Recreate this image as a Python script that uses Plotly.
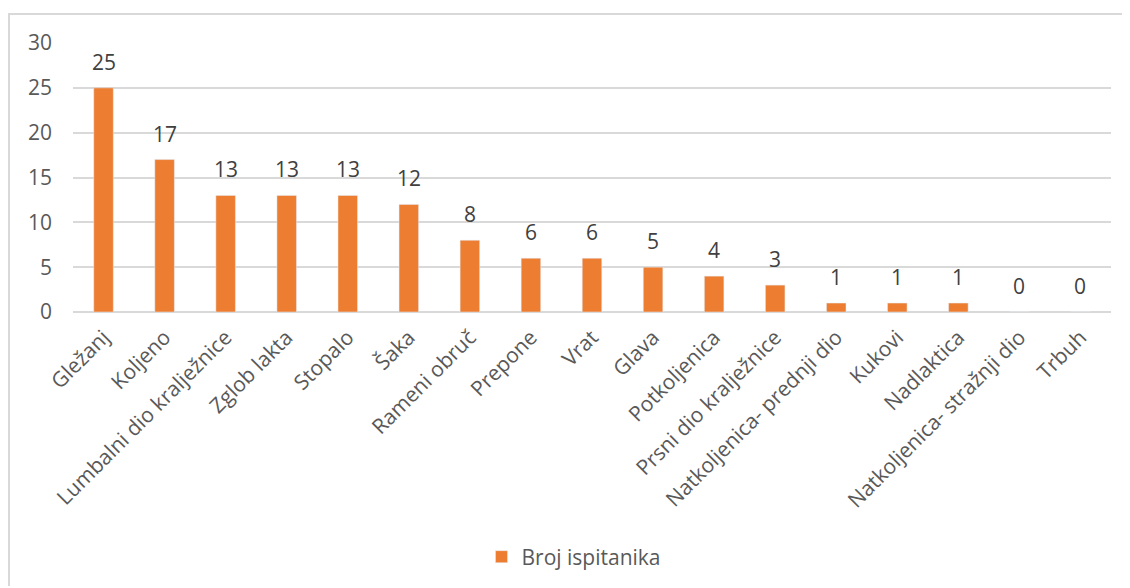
import plotly.graph_objects as go

categories = ["Gležanj", "Koljeno", "Lumbalni dio kralježnice", "Zglob lakta", "Stopalo", "Šaka",
              "Rameni obruč", "Prepone", "Vrat", "Glava", "Potkoljenica", "Prsni dio kralježnice",
              "Natkoljenica- prednji dio", "Kukovi", "Nadlaktica", "Natkoljenica- stražnji dio", "Trbuh"]
values = [25, 17, 13, 13, 13, 12, 8, 6, 6, 5, 4, 3, 1, 1, 1, 0, 0]
series_name = "Broj ispitanika"

FONT = "Open Sans, Noto Sans, sans-serif"
# page offset of the figure (body margin)
OFF = 8
W, H = 1130 - OFF, 588 - OFF
L, R, T, B = 73 - OFF, 19, 43 - OFF, 275
pw, ph = W - L - R, H - T - B

def px_x(page_x):
    return (page_x - 73) / pw

def px_y(page_y):
    return (313 - page_y) / ph

fig = go.Figure(go.Bar(
    x=categories, y=values, name=series_name,
    marker=dict(color="#ED7D31"),
    showlegend=True,
))

annotations = [
    dict(x=c, y=v, xref="x", yref="y", text=str(v), showarrow=False,
         yanchor="middle", yshift=26,
         font=dict(size=21, color="#404040", family=FONT))
    for c, v in zip(categories, values)
]

fig.update_layout(
    width=W, height=H,
    margin=dict(l=L, r=R, t=T, b=B),
    paper_bgcolor="white", plot_bgcolor="white",
    bargap=0.68,
    font=dict(family=FONT, color="#595959"),
    xaxis=dict(tickangle=-45, tickfont=dict(size=21, color="#595959"), showgrid=False,
               showline=False, ticks="", automargin=False, ticklabelstandoff=8),
    yaxis=dict(range=[0, 30], dtick=5, tickfont=dict(size=21, color="#595959"),
               showgrid=True, gridcolor="#D9D9D9", gridwidth=1.5, zeroline=True,
               zerolinecolor="#D9D9D9", zerolinewidth=1.5, ticks="", automargin=False,
               ticklabelstandoff=20),
    legend=dict(orientation="h", x=px_x(574), xanchor="center", y=px_y(557), yanchor="middle",
                itemwidth=30,
                font=dict(size=21, color="#595959", family=FONT)),
    annotations=annotations,
    shapes=[
        dict(type="line", xref="paper", yref="paper",
             x0=px_x(8), x1=px_x(1130), y0=px_y(14), y1=px_y(14),
             line=dict(color="#D9D9D9", width=2)),
        dict(type="line", xref="paper", yref="paper",
             x0=px_x(9), x1=px_x(9), y0=px_y(14), y1=px_y(588),
             line=dict(color="#D9D9D9", width=2)),
    ],
)

fig.write_html("out.html")
